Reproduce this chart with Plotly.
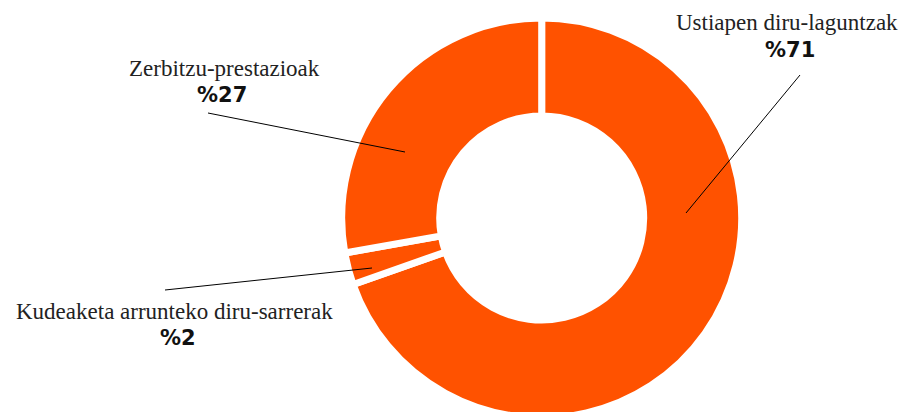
import plotly.graph_objects as go

labels = ["Ustiapen diru-laguntzak", "Kudeaketa arrunteko diru-sarrerak", "Zerbitzu-prestazioak"]
values = [69.6, 2.6, 27.8]   # slice sizes as drawn in the picture
pct_text = ["%71", "%2", "%27"]

W, H = 915, 420
OFF = 8  # page body margin offset
MT, MB, ML, MR = 10, 10, 0, 0
PW, PH = W - ML - MR, H - MT - MB

def px(x):
    return (x - OFF - ML) / PW

def py(y):
    return 1 - (y - OFF - MT) / PH

# label placement and leader lines (screen pixels)
label_pos = [(787, 23), (174, 311), (224, 69)]
pct_pos = [(790, 50), (178, 338), (222, 95)]
leaders = [((686, 213), (800, 75)), ((372, 268), (165, 290)), ((405, 152), (208, 113))]

cx = px(541.7)
fig = go.Figure(go.Pie(
    labels=labels, values=values, sort=False, direction="clockwise", rotation=0,
    hole=0.51, textinfo="none", hoverinfo="label+percent",
    marker=dict(colors=["#FF5200"] * 3, line=dict(color="white", width=7)),
    domain=dict(x=[cx - 0.3, cx + 0.3], y=[0, 1]),
    showlegend=False,
))

ann = []
for lab, (x, y) in zip(labels, label_pos):
    ann.append(dict(x=px(x), y=py(y), xref="paper", yref="paper", text=lab, showarrow=False,
                    font=dict(family="Liberation Serif", size=23, color="#222"),
                    xanchor="center", yanchor="middle"))
for t, (x, y) in zip(pct_text, pct_pos):
    ann.append(dict(x=px(x), y=py(y), xref="paper", yref="paper", text="<b>" + t + "</b>", showarrow=False,
                    font=dict(family="DejaVu Sans", size=21, color="#111"),
                    xanchor="center", yanchor="middle"))
shapes = []
for (a, b) in leaders:
    shapes.append(dict(type="line", xref="paper", yref="paper", x0=px(a[0]), y0=py(a[1]),
                       x1=px(b[0]), y1=py(b[1]), line=dict(color="black", width=1)))

fig.update_layout(width=W, height=H, margin=dict(l=ML, r=MR, t=MT, b=MB),
                  paper_bgcolor="white", plot_bgcolor="white",
                  annotations=ann, shapes=shapes)
fig.write_html("out.html")
